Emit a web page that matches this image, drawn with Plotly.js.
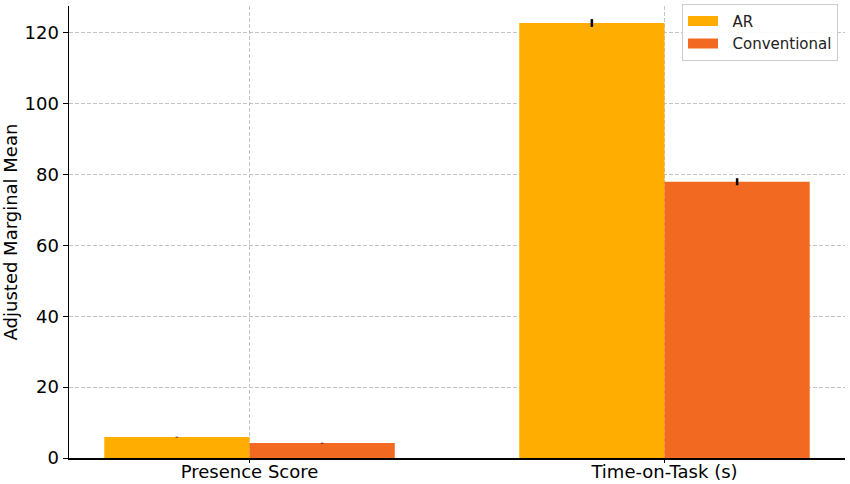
<!DOCTYPE html>
<html>
<head>
<meta charset="utf-8">
<script src="https://cdn.plot.ly/plotly-3.0.1.min.js"></script>
<style>
  html, body { margin: 0; padding: 0; background: #fff; }
  #chart { width: 850px; height: 484px; }
</style>
</head>
<body>
<div id="chart"></div>
<script>
// Data
const categories = ['Presence Score', 'Time-on-Task (s)'];
const arMeans = [5.9, 122.8];
const arErrors = [0.1, 1.1];
const convMeans = [4.2, 78.0];
const convErrors = [0.1, 1.0];

const arColor = '#FFAE00';
const convColor = '#F26A21';

var traceAR = {
    type: 'bar',
    name: 'AR',
    x: categories,
    y: arMeans,
    showlegend: false,
    error_y: { type: 'data', array: arErrors, visible: true, color: '#000', thickness: 2.5, width: 0 },
    marker: { color: arColor, line: { width: 0 } }
};

var traceConv = {
    type: 'bar',
    name: 'Conventional',
    x: categories,
    y: convMeans,
    showlegend: false,
    error_y: { type: 'data', array: convErrors, visible: true, color: '#000', thickness: 2.5, width: 0 },
    marker: { color: convColor, line: { width: 0 } }
};

// legend-only entries so the swatches come out as wide patches like the original
// (nbsp padding gives the gap between swatch and label)
var legendAR = {
    type: 'scatter', mode: 'lines', name: '\u00a0\u00a0AR',
    x: [null], y: [null],
    line: { color: arColor, width: 10 }
};
var legendConv = {
    type: 'scatter', mode: 'lines', name: '\u00a0\u00a0Conventional',
    x: [null], y: [null],
    line: { color: convColor, width: 10 }
};

var layout = {
    width: 850,
    height: 484,
    margin: { l: 69, r: 5, t: 5, b: 26 },
    paper_bgcolor: '#fff',
    plot_bgcolor: '#fff',
    font: { family: 'DejaVu Sans', size: 18, color: '#000' },
    barmode: 'group',
    bargap: 0.3,
    bargroupgap: 0,
    showlegend: true,
    legend: {
        x: 0.991, y: 1.003, xanchor: 'right', yanchor: 'top',
        bgcolor: 'rgba(255,255,255,0.9)',
        bordercolor: '#cccccc', borderwidth: 1,
        font: { family: 'DejaVu Sans', size: 15, color: '#222' },
        tracegroupgap: 0
    },
    xaxis: {
        type: 'category',
        range: [-0.435, 1.435],
        showline: true, linecolor: '#000', linewidth: 1.5,
        ticks: 'outside', ticklen: 3, tickcolor: '#000',
        ticklabelstandoff: -6,
        showgrid: true, gridcolor: '#c4c4c4', griddash: '4px,2px', gridwidth: 1,
        zeroline: false,
        tickfont: { size: 18 }
    },
    yaxis: {
        range: [0, 127.6],
        tickvals: [0, 20, 40, 60, 80, 100, 120],
        showline: true, linecolor: '#000', linewidth: 1.5,
        ticks: 'outside', ticklen: 5, tickcolor: '#000',
        showgrid: true, gridcolor: '#c4c4c4', griddash: '4px,2px', gridwidth: 1,
        zeroline: false,
        title: { text: 'Adjusted Marginal Mean', font: { size: 18 }, standoff: 8 },
        tickfont: { size: 18 }
    }
};

Plotly.newPlot('chart', [traceAR, traceConv, legendAR, legendConv], layout, { displayModeBar: false, staticPlot: true });
</script>
</body>
</html>
